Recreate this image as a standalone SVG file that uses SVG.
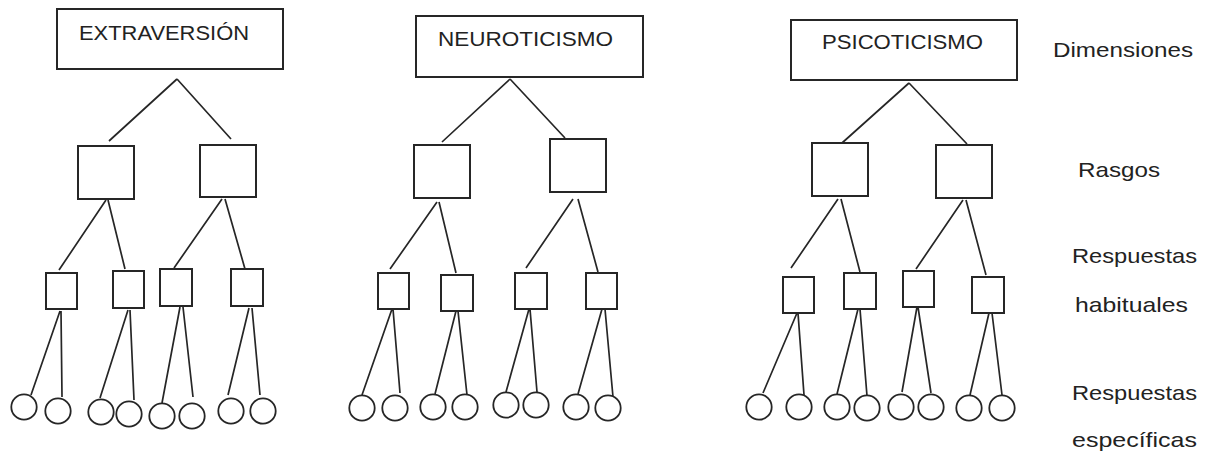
<svg xmlns="http://www.w3.org/2000/svg" width="1210" height="456" viewBox="0 0 1210 456">
<style>
.box{fill:#fff;stroke:#262626;stroke-width:2}
.c{fill:#fff;stroke:#262626;stroke-width:1.8}
.ln{stroke:#262626;stroke-width:1.7;fill:none}
.t{font-family:"Liberation Sans",Arial,sans-serif;font-size:21px;fill:#222}
</style>
<rect width="1210" height="456" fill="#fff"/>
<g id="connectors" class="ln">
<path d="M177,79L109,141M177,79L231,139M106,200L59,270M108,200L125,269M222,199L174,268M225,199L245,269M60,311L31,395M61,311L62,397M128,310L100,398M130,310L134,400M180,307L162,403M183,307L193,397M249,308L228,395M252,308L260,395"/>
<path d="M510,79L442,142M510,79L565,138M437,202L390,269M439,202L456,273M573,199L526,268M578,199L598,272M392,309L362,395M393,309L400,393M456,311L435,394M458,311L467,395M529,309L506,392M530,309L537,392M602,309L578,394M605,309L613,397"/>
<path d="M909,83L842,143M909,83L967,144M838,199L791,268M841,199L860,272M963,200L916,269M966,200L986,275M797,313L763,393M798,313L804,395M858,309L837,394M860,309L867,396M917,307L902,392M918,307L931,393M989,313L970,395M992,313L1002,395"/>
</g>
<g id="extraversion"><rect class="box" x="57" y="9" width="226" height="60"/><text class="t" x="79" y="40" textLength="170" lengthAdjust="spacingAndGlyphs">EXTRAVERSIÓN</text></g>
<g id="e-r1"><rect class="box" x="78" y="146" width="56" height="53"/></g>
<g id="e-r2"><rect class="box" x="200" y="145" width="56" height="52"/></g>
<g id="e-h1"><rect class="box" x="46" y="273" width="31" height="36"/></g>
<g id="e-h2"><rect class="box" x="113" y="271" width="31" height="37"/></g>
<g id="e-h3"><rect class="box" x="160" y="269" width="32" height="37"/></g>
<g id="e-h4"><rect class="box" x="231" y="269" width="32" height="37"/></g>
<g id="e-s1"><circle class="c" cx="24" cy="407" r="12.7"/></g>
<g id="e-s2"><circle class="c" cx="58" cy="411" r="12.7"/></g>
<g id="e-s3"><circle class="c" cx="101" cy="412" r="12.7"/></g>
<g id="e-s4"><circle class="c" cx="129" cy="414" r="12.7"/></g>
<g id="e-s5"><circle class="c" cx="162" cy="416" r="12.7"/></g>
<g id="e-s6"><circle class="c" cx="192" cy="416" r="12.7"/></g>
<g id="e-s7"><circle class="c" cx="231" cy="411" r="12.7"/></g>
<g id="e-s8"><circle class="c" cx="263" cy="411" r="12.7"/></g>

<g id="neuroticismo"><rect class="box" x="416" y="16" width="227" height="61"/><text class="t" x="438" y="46" textLength="175" lengthAdjust="spacingAndGlyphs">NEUROTICISMO</text></g>
<g id="n-r1"><rect class="box" x="414" y="145" width="56" height="53"/></g>
<g id="n-r2"><rect class="box" x="550" y="139" width="56" height="53"/></g>
<g id="n-h1"><rect class="box" x="378" y="273" width="31" height="36"/></g>
<g id="n-h2"><rect class="box" x="441" y="275" width="32" height="36"/></g>
<g id="n-h3"><rect class="box" x="515" y="273" width="32" height="36"/></g>
<g id="n-h4"><rect class="box" x="586" y="273" width="31" height="36"/></g>
<g id="n-s1"><circle class="c" cx="362" cy="408" r="12.7"/></g>
<g id="n-s2"><circle class="c" cx="395" cy="408" r="12.7"/></g>
<g id="n-s3"><circle class="c" cx="433" cy="407" r="12.7"/></g>
<g id="n-s4"><circle class="c" cx="465" cy="407" r="12.7"/></g>
<g id="n-s5"><circle class="c" cx="506" cy="405" r="12.7"/></g>
<g id="n-s6"><circle class="c" cx="536" cy="405" r="12.7"/></g>
<g id="n-s7"><circle class="c" cx="576" cy="407" r="12.7"/></g>
<g id="n-s8"><circle class="c" cx="608" cy="408" r="12.7"/></g>

<g id="psicoticismo"><rect class="box" x="791" y="20" width="226" height="60"/><text class="t" x="822" y="49" textLength="161" lengthAdjust="spacingAndGlyphs">PSICOTICISMO</text></g>
<g id="p-r1"><rect class="box" x="812" y="143" width="56" height="53"/></g>
<g id="p-r2"><rect class="box" x="936" y="145" width="56" height="53"/></g>
<g id="p-h1"><rect class="box" x="783" y="277" width="31" height="36"/></g>
<g id="p-h2"><rect class="box" x="844" y="273" width="32" height="36"/></g>
<g id="p-h3"><rect class="box" x="903" y="271" width="31" height="36"/></g>
<g id="p-h4"><rect class="box" x="972" y="277" width="32" height="36"/></g>
<g id="p-s1"><circle class="c" cx="759" cy="407" r="12.7"/></g>
<g id="p-s2"><circle class="c" cx="799" cy="407" r="12.7"/></g>
<g id="p-s3"><circle class="c" cx="837" cy="407" r="12.7"/></g>
<g id="p-s4"><circle class="c" cx="867" cy="408" r="12.7"/></g>
<g id="p-s5"><circle class="c" cx="901" cy="407" r="12.7"/></g>
<g id="p-s6"><circle class="c" cx="931" cy="407" r="12.7"/></g>
<g id="p-s7"><circle class="c" cx="969" cy="408" r="12.7"/></g>
<g id="p-s8"><circle class="c" cx="1002" cy="408" r="12.7"/></g>

<g id="labels">
<text class="t" x="1053" y="57" textLength="140" lengthAdjust="spacingAndGlyphs">Dimensiones</text>
<text class="t" x="1078" y="177" textLength="82" lengthAdjust="spacingAndGlyphs">Rasgos</text>
<text class="t" x="1072" y="263" textLength="125" lengthAdjust="spacingAndGlyphs">Respuestas</text>
<text class="t" x="1075" y="312" textLength="113" lengthAdjust="spacingAndGlyphs">habituales</text>
<text class="t" x="1072" y="400" textLength="125" lengthAdjust="spacingAndGlyphs">Respuestas</text>
<text class="t" x="1072" y="447" textLength="125" lengthAdjust="spacingAndGlyphs">específicas</text>
</g>
</svg>
